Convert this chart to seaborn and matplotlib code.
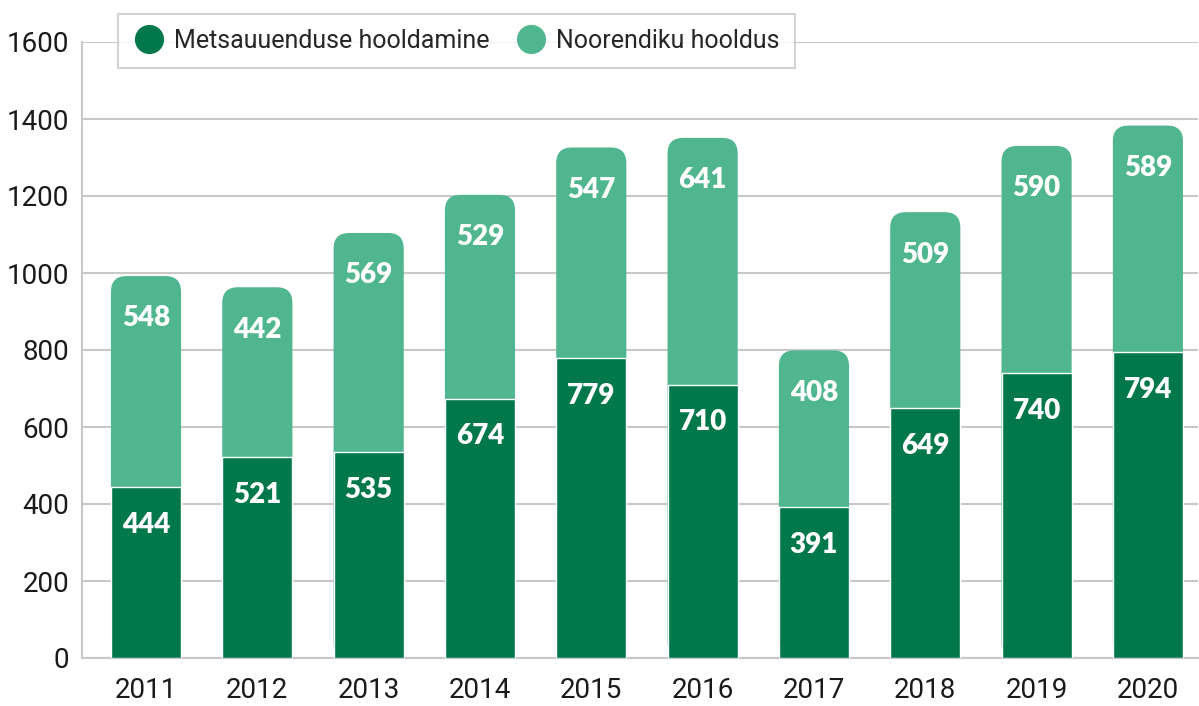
import matplotlib
matplotlib.use("Agg")
import matplotlib.pyplot as plt
from matplotlib import font_manager
from matplotlib.patches import FancyBboxPatch
from matplotlib.lines import Line2D
import seaborn as sns
import pandas as pd

years = ["2011", "2012", "2013", "2014", "2015", "2016", "2017", "2018", "2019", "2020"]
metsauuendus = [444, 521, 535, 674, 779, 710, 391, 649, 740, 794]
noorendik = [548, 442, 569, 529, 547, 641, 408, 509, 590, 589]
series_names = ["Metsauuenduse hooldamine", "Noorendiku hooldus"]
yticks = [0, 200, 400, 600, 800, 1000, 1200, 1400, 1600]

DARK = "#00784B"
LIGHT = "#50B68F"
GRID = "#C8C8C8"

sns.set_theme(style="white")
avail = {f.name for f in font_manager.fontManager.ttflist}
narrow = "Liberation Sans Narrow" if "Liberation Sans Narrow" in avail else "Roboto"
plt.rcParams["font.family"] = [narrow, "DejaVu Sans"]

totals = [a + b for a, b in zip(metsauuendus, noorendik)]
df = pd.DataFrame({"year": years, "bottom": metsauuendus, "top": noorendik, "total": totals})

fig = plt.figure(figsize=(11.99, 7.06), dpi=100)
ax = fig.add_axes([82 / 1199, 48 / 706, (1198 - 82) / 1199, (658 - 42) / 706])

sns.barplot(data=df, x="year", y="total", color=LIGHT, width=0.63, ax=ax,
            saturation=1, zorder=2)
light_patches = list(ax.patches)
sns.barplot(data=df, x="year", y="bottom", color=DARK, width=0.63, ax=ax,
            saturation=1, zorder=3)

ax.set_ylim(0, 1600)
ax.set_xlim(-0.575, 9.45)

# replace light bars with rounded-top versions
px_x = (1198 - 82) / (ax.get_xlim()[1] - ax.get_xlim()[0])
px_y = 616 / 1600
aspect = px_x / px_y
for p in light_patches:
    x, w, h = p.get_x(), p.get_width(), p.get_height()
    p.remove()
    fb = FancyBboxPatch((x, 0), w, h, boxstyle="round,pad=0,rounding_size=0.14",
                        mutation_aspect=aspect, facecolor=LIGHT, edgecolor="none",
                        zorder=2)
    ax.add_patch(fb)

for i in range(len(years)):
    ax.annotate(str(metsauuendus[i]), (i, metsauuendus[i]), xytext=(0, -27),
                textcoords="offset points", ha="center", va="center",
                color="white", fontsize=20, fontweight="heavy", family="Lato", zorder=5)
    ax.annotate(str(noorendik[i]), (i, totals[i]), xytext=(0, -30.5),
                textcoords="offset points", ha="center", va="center",
                color="white", fontsize=20, fontweight="heavy", family="Lato", zorder=5)

ax.set_yticks(yticks)
ax.set_yticklabels([str(t) for t in yticks])
ax.yaxis.grid(True, color=GRID, linewidth=1.5, zorder=0)
ax.set_axisbelow(True)
ax.set_xlabel("")
ax.set_ylabel("")
for s in ["top", "right"]:
    ax.spines[s].set_visible(False)
for s in ["left", "bottom"]:
    ax.spines[s].set_color(GRID)
    ax.spines[s].set_linewidth(1.5)
ax.tick_params(axis="both", length=0, labelsize=20, colors="#1a1a1a")
ax.tick_params(axis="y", pad=9)
ax.tick_params(axis="x", pad=14)

handles = [Line2D([0], [0], marker="o", linestyle="none", markersize=21,
                  markerfacecolor=c, markeredgecolor="none") for c in (DARK, LIGHT)]
leg = ax.legend(handles, series_names, loc="upper left",
                bbox_to_anchor=(118 / 1199, 692 / 706), bbox_transform=fig.transFigure,
                borderaxespad=0, ncol=2, frameon=True, fancybox=False, fontsize=18,
                handletextpad=0.35, columnspacing=1.0, borderpad=0.6,
                handlelength=1.3)
leg.get_frame().set_edgecolor(GRID)
leg.get_frame().set_linewidth(1.5)
leg.set_zorder(10)

fig.savefig("out.png", dpi=100)
